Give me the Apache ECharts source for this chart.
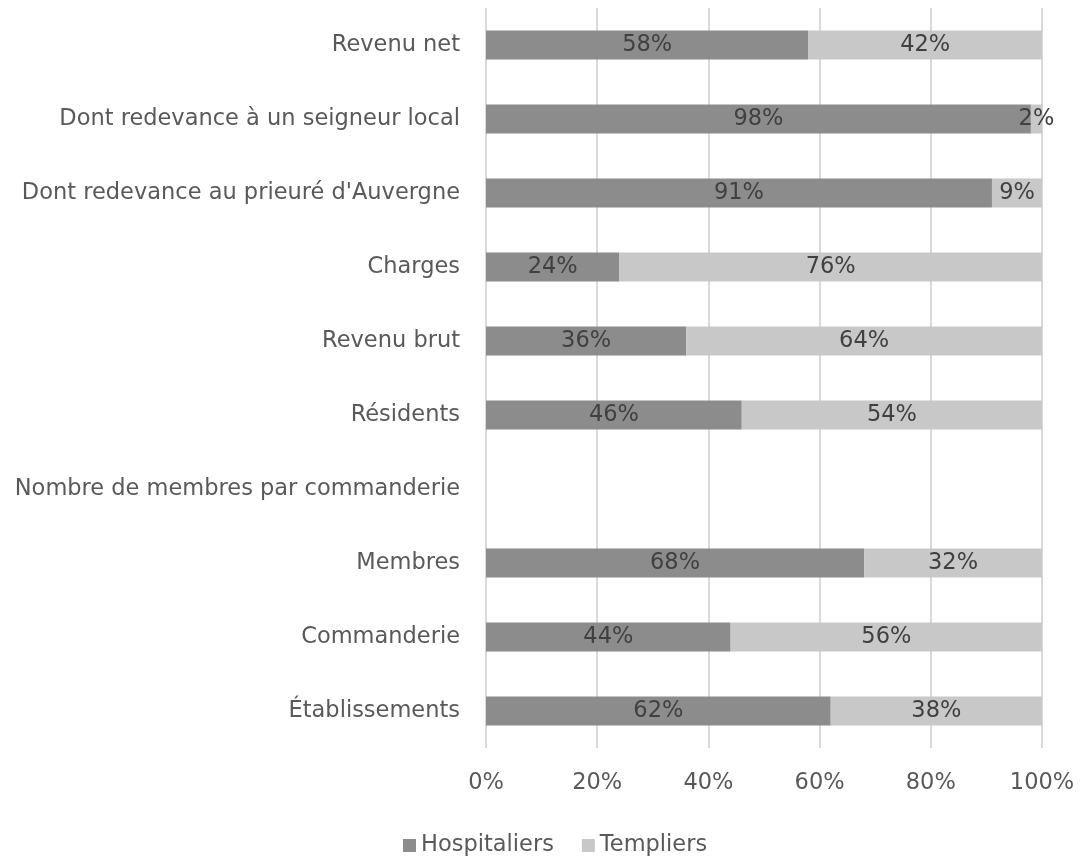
<!DOCTYPE html>
<html>
<head>
<meta charset="utf-8">
<script src="https://cdn.jsdelivr.net/npm/echarts@6/dist/echarts.min.js"></script>
<style>
  html, body { margin: 0; padding: 0; background: #fff; }
  #chart { width: 1083px; height: 858px; }
</style>
</head>
<body>
<div id="chart"></div>
<script>
// catégories, du bas vers le haut
const categories = [
  'Établissements',
  'Commanderie',
  'Membres',
  'Nombre de membres par commanderie',
  'Résidents',
  'Revenu brut',
  'Charges',
  "Dont redevance au prieuré d'Auvergne",
  'Dont redevance à un seigneur local',
  'Revenu net'
]
const hospitaliers = [62, 44, 68, null, 46, 36, 24, 91, 98, 58]
const templiers = [38, 56, 32, null, 54, 64, 76, 9, 2, 42]
const xTicks = [0, 20, 40, 60, 80, 100]

const font = '"DejaVu Sans", sans-serif'
const fs = 22.5

const chart = echarts.init(document.getElementById('chart'))
chart.setOption({
  backgroundColor: '#fff',
  textStyle: { fontFamily: font },
  grid: { left: 486, right: 41, top: 8, bottom: 110 },
  legend: {
    top: 829,
    left: 398,
    itemWidth: 13,
    itemHeight: 13,
    itemGap: 28,
    icon: 'rect',
    textStyle: { color: '#595959', fontSize: fs, fontFamily: font },
    data: ['Hospitaliers', 'Templiers']
  },
  xAxis: {
    type: 'value',
    min: 0,
    max: 100,
    interval: 20,
    axisLine: { show: false },
    axisTick: { show: false },
    splitLine: { lineStyle: { color: '#d9d9d9', width: 2 } },
    axisLabel: {
      margin: 24,
      color: '#595959',
      fontSize: fs,
      fontFamily: font,
      formatter: v => xTicks.includes(v) ? v + '%' : ''
    }
  },
  yAxis: {
    type: 'category',
    data: categories,
    axisLine: { show: false },
    axisTick: { show: false },
    axisLabel: { margin: 26, color: '#595959', fontSize: fs, fontFamily: font }
  },
  series: [
    {
      name: 'Hospitaliers',
      type: 'bar',
      stack: 'total',
      barWidth: 29,
      itemStyle: { color: '#8c8c8c' },
      label: {
        show: true,
        position: 'inside',
        color: '#404040',
        fontSize: fs,
        fontFamily: font,
        formatter: p => p.value == null ? '' : p.value + '%'
      },
      data: hospitaliers
    },
    {
      name: 'Templiers',
      type: 'bar',
      stack: 'total',
      barWidth: 29,
      itemStyle: { color: '#c8c8c8' },
      label: {
        show: true,
        position: 'inside',
        color: '#404040',
        fontSize: fs,
        fontFamily: font,
        formatter: p => p.value == null ? '' : p.value + '%'
      },
      data: templiers
    }
  ]
})
</script>
</body>
</html>
